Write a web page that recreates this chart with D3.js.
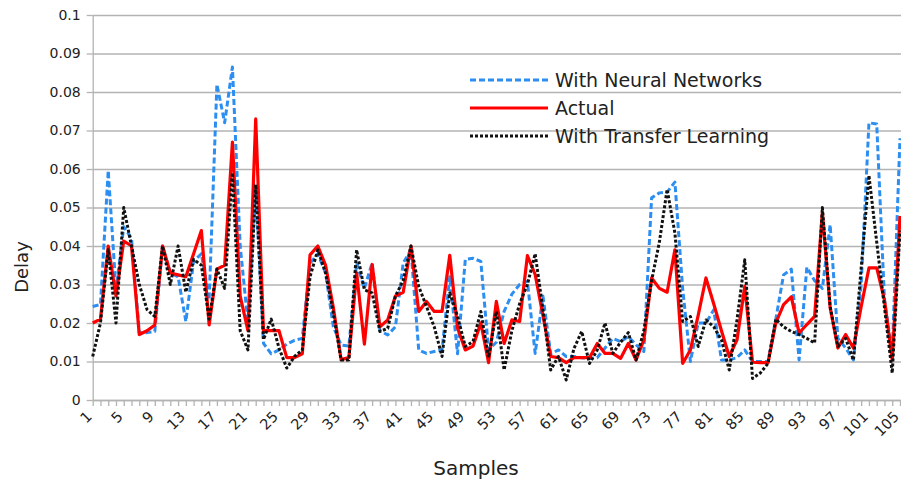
<!DOCTYPE html>
<html>
<head>
<meta charset="utf-8">
<script src="https://cdn.jsdelivr.net/npm/d3@7"></script>
<style>
body { margin: 0; background: #fff; }
svg text { font-family: "DejaVu Sans", sans-serif; fill: #222; }
</style>
</head>
<body>
<script>
// samples 1..105
var samples = d3.range(1, 106);

var actual = [
  0.020, 0.021, 0.040, 0.027, 0.0413, 0.040, 0.017, 0.018, 0.0195, 0.040,
  0.033, 0.0325, 0.032, 0.038, 0.044, 0.0195, 0.034, 0.035, 0.067, 0.027,
  0.018, 0.073, 0.018, 0.018, 0.018, 0.011, 0.011, 0.012, 0.0377, 0.040,
  0.035, 0.024, 0.0105, 0.011, 0.033, 0.0145, 0.0352, 0.019, 0.0208, 0.027,
  0.028, 0.040, 0.023, 0.0256, 0.023, 0.023, 0.0376, 0.0187, 0.013, 0.014,
  0.020, 0.0097, 0.0256, 0.0147, 0.0208, 0.0204, 0.0375, 0.0326, 0.022, 0.0113,
  0.011, 0.0097, 0.011, 0.011, 0.011, 0.0147, 0.0121, 0.0121, 0.0108, 0.0147,
  0.0104, 0.0156, 0.0317, 0.029, 0.028, 0.039, 0.0095, 0.013, 0.022, 0.0317,
  0.025, 0.018, 0.0113, 0.0156, 0.0295, 0.0098, 0.0097, 0.0097, 0.020, 0.0248,
  0.0268, 0.0174, 0.0196, 0.0217, 0.0487, 0.024, 0.0135, 0.017, 0.0135, 0.0243,
  0.0343, 0.0343, 0.026, 0.0104, 0.0478
];

var neural = [
  0.0243, 0.0248, 0.0596, 0.0285, 0.045, 0.042, 0.0175, 0.0175, 0.0178, 0.040,
  0.033, 0.032, 0.0204, 0.036, 0.038, 0.026, 0.082, 0.072, 0.0865, 0.040,
  0.020, 0.055, 0.0147, 0.012, 0.013, 0.0145, 0.0155, 0.016, 0.0355, 0.038,
  0.033, 0.019, 0.0143, 0.014, 0.0356, 0.029, 0.0356, 0.018, 0.0169, 0.019,
  0.0356, 0.039, 0.013, 0.0121, 0.0126, 0.013, 0.032, 0.012, 0.0365, 0.0368,
  0.036, 0.013, 0.015, 0.023, 0.0275, 0.030, 0.0308, 0.0121, 0.027, 0.012,
  0.013, 0.0113, 0.0113, 0.011, 0.0108, 0.011, 0.0135, 0.016, 0.0152, 0.0165,
  0.0143, 0.0126, 0.0525, 0.0538, 0.054, 0.0566, 0.029, 0.010, 0.020, 0.020,
  0.0234, 0.0104, 0.0104, 0.011, 0.013, 0.010, 0.010, 0.010, 0.021, 0.0325,
  0.034, 0.0104, 0.0345, 0.031, 0.029, 0.0455, 0.016, 0.0135, 0.0104, 0.030,
  0.072, 0.0717, 0.026, 0.012, 0.068
];

var transfer = [
  0.0113, 0.020, 0.039, 0.020, 0.050, 0.040, 0.030, 0.0235, 0.0217, 0.040,
  0.030, 0.040, 0.028, 0.0365, 0.035, 0.021, 0.034, 0.029, 0.059, 0.018,
  0.013, 0.056, 0.0157, 0.021, 0.0135, 0.0083, 0.0113, 0.013, 0.032, 0.039,
  0.033, 0.0226, 0.0104, 0.0104, 0.039, 0.0286, 0.0278, 0.0178, 0.0186, 0.027,
  0.031, 0.040, 0.0295, 0.0243, 0.019, 0.0113, 0.0278, 0.0217, 0.0139, 0.0152,
  0.023, 0.011, 0.023, 0.0078, 0.018, 0.025, 0.030, 0.038, 0.0235, 0.0078,
  0.0113, 0.0052, 0.0134, 0.0178, 0.0095, 0.013, 0.020, 0.0121, 0.015, 0.0175,
  0.0104, 0.018, 0.031, 0.041, 0.0547, 0.0434, 0.0204, 0.0217, 0.0139, 0.0208,
  0.019, 0.0156, 0.0078, 0.0208, 0.0364, 0.0056, 0.007, 0.0095, 0.021, 0.019,
  0.0178, 0.017, 0.016, 0.0148, 0.050, 0.0243, 0.0139, 0.016, 0.0104, 0.0343,
  0.0583, 0.041, 0.024, 0.007, 0.044
];

var yTicks = [0, 0.01, 0.02, 0.03, 0.04, 0.05, 0.06, 0.07, 0.08, 0.09, 0.1];
var seriesNames = ["With Neural Networks", "Actual", "With Transfer Learning"];

var width = 901, height = 483;
var plotLeft = 92.7, plotRight = 900, plotTop = 15, plotBottom = 400;

var svg = d3.select("body").append("svg")
    .attr("width", width)
    .attr("height", height);

var x = d3.scalePoint().domain(samples).range([plotLeft, plotRight]);
var y = d3.scaleLinear().domain([0, 0.1]).range([plotBottom, plotTop]);

// grid lines
svg.append("g")
    .attr("transform", "translate(" + plotLeft + ",0)")
    .call(d3.axisLeft(y).tickValues(yTicks).tickSize(-(width - plotLeft)).tickFormat(""))
    .call(function(g) {
        g.select(".domain").remove();
        g.selectAll("line").attr("stroke", "#b3b3b3").attr("stroke-width", 1.3);
    });

// y axis
var yAxis = svg.append("g")
    .attr("transform", "translate(" + plotLeft + ",0)")
    .call(d3.axisLeft(y).tickValues(yTicks).tickSize(6).tickSizeOuter(0).tickPadding(6)
        .tickFormat(function(d) { return String(+d.toFixed(2)); }));
yAxis.select(".domain").attr("stroke", "#b3b3b3").attr("stroke-width", 1.3);
yAxis.selectAll(".tick line").attr("stroke", "#b3b3b3").attr("stroke-width", 1.3);
yAxis.selectAll("text").style("font-size", "14px");

// x axis, labels every 4th sample, rotated
var xAxis = svg.append("g")
    .attr("transform", "translate(0," + plotBottom + ")")
    .call(d3.axisBottom(x).tickSize(6).tickSizeOuter(0)
        .tickFormat(function(d) { return (d - 1) % 4 == 0 ? d : ""; }));
xAxis.select(".domain").attr("stroke", "#b3b3b3").attr("stroke-width", 1.3);
xAxis.selectAll(".tick line").attr("stroke", "#b3b3b3").attr("stroke-width", 1.3);
xAxis.selectAll("text")
    .style("font-size", "14.5px")
    .attr("text-anchor", "end")
    .attr("x", 0).attr("y", 0).attr("dy", "0.35em")
    .attr("transform", "translate(-4,14) rotate(-45)");

// axis titles
svg.append("text")
    .attr("x", 476).attr("y", 475)
    .attr("text-anchor", "middle")
    .style("font-size", "20px")
    .text("Samples");
svg.append("text")
    .attr("transform", "translate(28,267) rotate(-90)")
    .attr("text-anchor", "middle")
    .style("font-size", "18px")
    .text("Delay");

// series
var styles = [
    {data: neural, color: "#2b8ef0", width: 3, dash: "6,3"},
    {data: actual, color: "#ff0000", width: 3.2, dash: null},
    {data: transfer, color: "#111111", width: 3, dash: "3,2"}
];

var line = d3.line()
    .x(function(d, i) { return x(samples[i]); })
    .y(function(d) { return y(d); });

styles.forEach(function(s) {
    svg.append("path")
        .datum(s.data)
        .attr("fill", "none")
        .attr("stroke", s.color)
        .attr("stroke-width", s.width)
        .attr("stroke-linejoin", "round")
        .attr("stroke-dasharray", s.dash)
        .attr("d", line);
});

// legend
var legend = svg.append("g").attr("transform", "translate(470,80)");
styles.forEach(function(s, i) {
    var g = legend.append("g").attr("transform", "translate(0," + (i * 28) + ")");
    g.append("line")
        .attr("x1", 0).attr("x2", 78).attr("y1", 0).attr("y2", 0)
        .attr("stroke", s.color)
        .attr("stroke-width", s.width)
        .attr("stroke-dasharray", s.dash);
    g.append("text")
        .attr("x", 85).attr("y", 0).attr("dy", "0.35em")
        .style("font-size", "19px")
        .text(seriesNames[i]);
});
</script>
</body>
</html>
